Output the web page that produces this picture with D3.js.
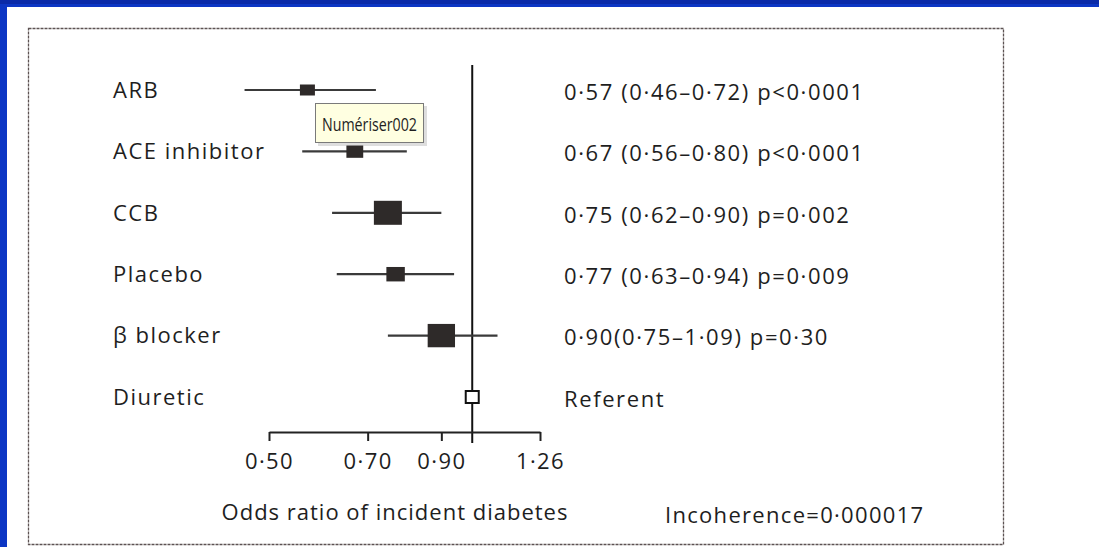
<!DOCTYPE html>
<html>
<head>
<meta charset="utf-8">
<script src="https://cdn.jsdelivr.net/npm/d3@7"></script>
<style>
  body { margin: 0; background: #0c36c4; }
  svg { display: block; }
  text { font-family: "Open Sans", "DejaVu Sans", sans-serif; fill: #1e1e1e; }
</style>
</head>
<body>
<svg id="chart" width="1099" height="547"></svg>
<script>
// data
var treatments = ["ARB", "ACE inhibitor", "CCB", "Placebo", "\u03b2 blocker", "Diuretic"];
var oddsRatio = [0.57, 0.67, 0.75, 0.77, 0.90, 1.00];
var ciLow = [0.46, 0.56, 0.62, 0.63, 0.75, null];
var ciHigh = [0.72, 0.80, 0.90, 0.94, 1.09, null];
var weights = [1.0, 1.3, 4.0, 1.6, 3.8, null];   // relative marker weight
var resultLabels = [
  "0\u00b757 (0\u00b746\u20130\u00b772) p<0\u00b70001",
  "0\u00b767 (0\u00b756\u20130\u00b780) p<0\u00b70001",
  "0\u00b775 (0\u00b762\u20130\u00b790) p=0\u00b7002",
  "0\u00b777 (0\u00b763\u20130\u00b794) p=0\u00b7009",
  "0\u00b790(0\u00b775\u20131\u00b709) p=0\u00b730",
  "Referent"
];
var tickValues = [0.50, 0.70, 0.90, 1.26];
var axisTitle = "Odds ratio of incident diabetes";
var noteText = "Incoherence=0\u00b7000017";
var tooltipText = "Num\u00e9riser002";

var svg = d3.select("#chart");

// white page + scanned frame
svg.append("rect").attr("x", 7).attr("y", 7).attr("width", 1092).attr("height", 540).attr("fill", "#fff");
svg.append("rect").attr("x", 0).attr("y", 0).attr("width", 1099).attr("height", 4).attr("fill", "#0a2aa8");
svg.append("rect")
    .attr("x", 28.5).attr("y", 28.5).attr("width", 975).attr("height", 516)
    .attr("fill", "none").attr("stroke", "#5c5252").attr("stroke-width", 1.3)
    .attr("stroke-dasharray", "3,1");

var x = d3.scaleLog().domain([0.50, 1.26]).range([269, 540]);
var y = d3.scalePoint().domain(treatments).range([90, 397]);
var size = d3.scaleSqrt().domain([0, 4]).range([0, 26]);

var rows = treatments.map(function(t, i) {
    return { name: t, or: oddsRatio[i], lo: ciLow[i], hi: ciHigh[i], w: weights[i], label: resultLabels[i] };
});

// reference line at OR = 1
svg.append("line")
    .attr("x1", x(1)).attr("x2", x(1))
    .attr("y1", 65).attr("y2", 443)
    .attr("stroke", "#111").attr("stroke-width", 2);

// axis
var axis = d3.axisBottom(x)
    .tickValues(tickValues)
    .tickSize(9)
    .tickSizeOuter(0)
    .tickFormat(function(d) { return d3.format(".2f")(d).replace(".", "\u00b7"); });

var gAxis = svg.append("g").attr("transform", "translate(0,432)").call(axis);
gAxis.select(".domain").attr("stroke", "#222").attr("stroke-width", 2);
gAxis.selectAll(".tick line").attr("stroke", "#222").attr("stroke-width", 2);
gAxis.selectAll(".tick text")
    .attr("y", 21)
    .attr("font-size", 22)
    .attr("letter-spacing", 1.4)
    .attr("font-family", "\"Open Sans\", sans-serif")
    .attr("fill", "#1e1e1e");

// CI lines
svg.selectAll(".ci")
    .data(rows.filter(function(r) { return r.lo != null; }))
    .enter().append("line")
    .attr("class", "ci")
    .attr("x1", function(d) { return x(d.lo); })
    .attr("x2", function(d) { return x(d.hi); })
    .attr("y1", function(d) { return y(d.name); })
    .attr("y2", function(d) { return y(d.name); })
    .attr("stroke", "#3a3a3a").attr("stroke-width", 2.2);

// point estimates
svg.selectAll(".pt")
    .data(rows.filter(function(r) { return r.w != null; }))
    .enter().append("rect")
    .attr("class", "pt")
    .attr("x", function(d) { return x(d.or) - (size(d.w) + 2) / 2; })
    .attr("y", function(d) { return y(d.name) - (size(d.w) - 2) / 2; })
    .attr("width", function(d) { return size(d.w) + 2; })
    .attr("height", function(d) { return size(d.w) - 2; })
    .attr("fill", "#2e2a29");

// referent (hollow box)
svg.selectAll(".ref")
    .data(rows.filter(function(r) { return r.w == null; }))
    .enter().append("rect")
    .attr("class", "ref")
    .attr("x", function(d) { return x(d.or) - 6.5; })
    .attr("y", function(d) { return y(d.name) - 6; })
    .attr("width", 13).attr("height", 12)
    .attr("fill", "#fff").attr("stroke", "#111").attr("stroke-width", 2);

// labels
svg.selectAll(".name")
    .data(rows).enter().append("text")
    .attr("x", 113)
    .attr("y", function(d) { return y(d.name); })
    .attr("dy", "0.35em")
    .attr("font-size", 22)
    .attr("letter-spacing", 1.5)
    .text(function(d) { return d.name; });

svg.selectAll(".res")
    .data(rows).enter().append("text")
    .attr("x", 564)
    .attr("y", function(d) { return y(d.name) + 2; })
    .attr("dy", "0.35em")
    .attr("font-size", 22)
    .attr("letter-spacing", 1.6)
    .text(function(d) { return d.label; });

svg.append("text")
    .attr("x", 395).attr("y", 512).attr("dy", "0.35em")
    .attr("text-anchor", "middle").attr("font-size", 22)
    .attr("letter-spacing", 1.0)
    .text(axisTitle);

svg.append("text")
    .attr("x", 665).attr("y", 515).attr("dy", "0.35em")
    .attr("font-size", 22)
    .attr("letter-spacing", 1.3)
    .text(noteText);

// windows tooltip caught in the screenshot
var tip = svg.append("g").attr("transform", "translate(315,103)");
tip.append("rect").attr("x", 3).attr("y", 3).attr("width", 109).attr("height", 40).attr("fill", "#c8c8c8").attr("opacity", 0.6);
tip.append("rect").attr("x", 0.5).attr("y", 0.5).attr("width", 108).attr("height", 39)
    .attr("fill", "#ffffe1").attr("stroke", "#7a7a7a");
tip.append("text")
    .attr("x", 7).attr("y", 21).attr("dy", "0.35em")
    .attr("font-size", 19)
    .attr("textLength", 95)
    .attr("lengthAdjust", "spacingAndGlyphs")
    .text(tooltipText);
</script>
</body>
</html>
